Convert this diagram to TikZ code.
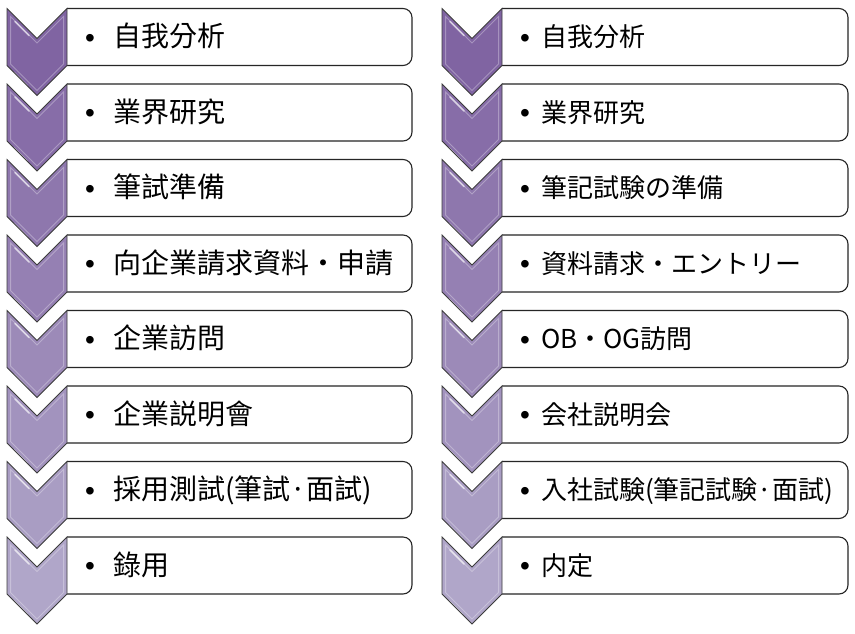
\documentclass[tikz,border=0pt]{standalone}
\usepackage{fontspec}
\newfontfamily\tcfont{Noto Sans CJK TC}
\newfontfamily\jpfont{Noto Sans CJK JP}
\newfontfamily\bulfont{Liberation Sans}
\definecolor{chevtop}{RGB}{128,100,162}
\definecolor{chevbot}{RGB}{176,166,201}
\definecolor{edgecol}{RGB}{60,60,60}
\tikzset{
  chevline/.style={draw=edgecol,line width=0.8pt,line join=miter},
  boxline/.style={draw=black!85,line width=1.1pt,fill=white},
  bevel/.style={draw=white,opacity=0.3,line width=1pt},
  shine/.style={draw=white,opacity=0.6,line width=1.6pt,line cap=round},
  ltext/.style={anchor=base west,inner sep=0pt,font=\tcfont\fontsize{28}{30}\selectfont},
  rtext/.style={anchor=base west,inner sep=0pt,font=\jpfont\fontsize{26}{30}\selectfont},
  bulletmark/.style={anchor=base,inner sep=0pt,font=\bulfont\fontsize{28}{30}\selectfont}
}
\newcommand{\chevronat}[3]{% x0, t, color
  \fill[#3] (#1,#2) -- (#1+30,#2+30) -- (#1+60,#2) -- (#1+60,#2+57) -- (#1+30,#2+87) -- (#1,#2+57) -- cycle;
  \draw[bevel] (#1+3.5,#2+8) -- (#1+30,#2+34.5) -- (#1+56.5,#2+8) -- (#1+56.5,#2+55.5) -- (#1+30,#2+82) -- (#1+3.5,#2+55.5) -- cycle;
  \draw[shine] (#1+8,#2+13) -- (#1+22,#2+27);
  \draw[shine] (#1+7,#2+64) -- (#1+20,#2+77);
  \draw[chevline] (#1,#2) -- (#1+30,#2+30) -- (#1+60,#2) -- (#1+60,#2+57) -- (#1+30,#2+87) -- (#1,#2+57) -- cycle;
}
\newcommand{\boxat}[3]{% xleft, xright, t
  \begin{scope}
    \clip (#1,#3-3) rectangle (#2+3,#3+60);
    \draw[boxline,rounded corners=9pt] (#1-20,#3) rectangle (#2,#3+57);
  \end{scope}
}
\newcommand{\mdot}{{\jpfont ·}}
\begin{document}
\begin{tikzpicture}[x=1pt,y=-1pt]
\useasboundingbox (0,0) rectangle (855,633);
\fill[white] (0,0) rectangle (855,633);
\foreach \i/\lt/\rt in {
  0/自我分析/自我分析,
  1/業界研究/業界研究,
  2/筆試準備/筆記試験の準備,
  3/向企業請求資料・申請/資料請求・エントリー,
  4/企業訪問/OB・OG訪問,
  5/企業説明會/会社説明会,
  6/採用測試(筆試\mdot 面試)/入社試験(筆記試験·面試),
  7/錄用/内定}{
  \pgfmathsetmacro\t{8.5+75.5*\i}
  \pgfmathsetmacro\p{100-100*\i/7}
  \colorlet{chevfill}{chevtop!\p!chevbot}
  \pgfmathsetmacro\c{\t+38.5}
  \pgfmathsetmacro\b{\t+38}
  % left column
  \boxat{67}{412}{\t}
  \chevronat{7}{\t}{chevfill}
  \node[bulletmark] (LB\i) at (90,\c) {•};
  \node[ltext] (L\i) at (113,\b) {\lt};
  % right column
  \boxat{502}{848}{\t}
  \chevronat{442}{\t}{chevfill}
  \node[bulletmark] (RB\i) at (525,\c) {•};
  \node[rtext] (R\i) at (541,\b) {\rt};
}
\end{tikzpicture}
\end{document}
